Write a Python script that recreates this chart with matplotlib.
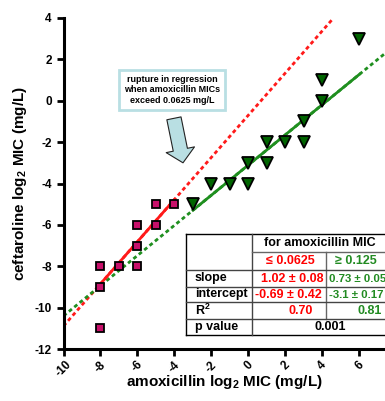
import numpy as np
import matplotlib
matplotlib.use("Agg")
import matplotlib.pyplot as plt
from matplotlib.lines import Line2D
from matplotlib.patches import Rectangle

plt.rcParams['font.family'] = ['Liberation Sans', 'DejaVu Sans']
plt.rcParams['font.weight'] = 'bold'
plt.rcParams['mathtext.fontset'] = 'custom'
plt.rcParams['mathtext.rm'] = 'Liberation Sans:bold'
plt.rcParams['mathtext.bf'] = 'Liberation Sans:bold'

# amoxicillin MIC <= 0.0625 mg/L
amox_low = [-8, -8, -8, -7, -6, -6, -6, -5, -5, -4]
ceft_low = [-8, -9, -11, -8, -6, -7, -8, -5, -6, -5]
# amoxicillin MIC >= 0.125 mg/L
amox_high = [-3, -2, -1, 0, 0, 1, 1, 2, 3, 3, 4, 4, 6]
ceft_high = [-5, -4, -4, -4, -3, -3, -2, -2, -2, -1, 0, 1, 3]

slope_low, icpt_low = 1.02, -0.69
slope_high, icpt_high = 0.73, -3.1

xticks = [-10, -8, -6, -4, -2, 0, 2, 4, 6]
yticks = [4, 2, 0, -2, -4, -6, -8, -10, -12]

row_labels = ['slope', 'intercept', 'R$^2$', 'p value']
col_low = ['1.02 ± 0.08', '-0.69 ± 0.42', '0.70']
col_high = ['0.73 ± 0.05', '-3.1 ± 0.17', '0.81']
p_value = '0.001'

RED = '#ff1a1a'
GREEN = '#1f8f1f'
W, H = 385, 401

fig = plt.figure(figsize=(W / 100, H / 100), dpi=100)
ax = fig.add_axes([63.5 / W, 1 - 349 / H, 1 - 63.5 / W, (349 - 18) / H])
ax.set_xlim(-10, 7.38)
ax.set_ylim(-12, 4)

# regression lines: dashed over whole range, solid over data range
xx = np.array([-10, (4 - icpt_low) / slope_low])
ax.plot(xx, slope_low * xx + icpt_low, color=RED, lw=2, ls=(0, (1.4, 1.1)), zorder=2)
xx = np.array([-10, 7.4])
ax.plot(xx, slope_high * xx + icpt_high, color=GREEN, lw=2, ls=(0, (1.4, 1.1)), zorder=2)
xx = np.array([min(amox_low), max(amox_low)])
ax.plot(xx, slope_low * xx + icpt_low, color=RED, lw=2, zorder=3)
xx = np.array([min(amox_high), max(amox_high)])
ax.plot(xx, slope_high * xx + icpt_high, color=GREEN, lw=2, zorder=3)

ax.plot(amox_low, ceft_low, 's', ms=6, mfc='#c8106a', mec='black', mew=1.3, zorder=4)
ax.plot(amox_high, ceft_high, 'v', ms=8, mfc='#006400', mec='black', mew=1.3, zorder=4)

for s in ['top', 'right']:
    ax.spines[s].set_visible(False)
for s in ['left', 'bottom']:
    ax.spines[s].set_linewidth(2.2)
ax.tick_params(width=2, length=5, labelsize=8.5)
ax.tick_params(axis='x', pad=2)
ax.set_xticks(xticks)
ax.set_yticks(yticks)
ax.set_xticklabels([str(v) for v in xticks], rotation=45, ha='center', fontweight='bold')
ax.set_yticklabels([str(v) for v in yticks], fontweight='bold')
fig.text(224 / W, 1 - 382 / H, 'amoxicillin log$_2$ MIC (mg/L)', ha='center', va='center',
         fontsize=11, fontweight='bold')
ax.set_ylabel('ceftaroline log$_2$ MIC (mg/L)', fontsize=11, fontweight='bold', labelpad=4)

# annotation box and arrow
ax.annotate('', xy=(-3.54, -3.0), xytext=(-4.03, -0.85),
            arrowprops=dict(arrowstyle='simple,head_width=2.6,head_length=1.2,tail_width=1.3',
                            mutation_scale=8, fc='#b9dfe3', ec='#222222', lw=0.8,
                            shrinkA=0, shrinkB=0))
ax.text(-4.11, 0.52, 'rupture in regression\nwhen amoxicillin MICs\nexceed 0.0625 mg/L',
        ha='center', va='center', fontsize=6.5, fontweight='bold', linespacing=1.25,
        bbox=dict(boxstyle='square,pad=0.55', fc='white', ec='#b9dfe3', lw=2))


# table drawn in figure pixel coordinates
def fx(x):
    return x / W


def fy(y):
    return 1 - y / H


def hline(x0, x1, y, c='black', lw=1):
    fig.add_artist(Line2D([fx(x0), fx(x1)], [fy(y), fy(y)], color=c, lw=lw, zorder=6))


def vline(x, y0, y1, c='black', lw=1):
    fig.add_artist(Line2D([fx(x), fx(x)], [fy(y0), fy(y1)], color=c, lw=lw, zorder=6))


def cell(x, y, s, ha='center', color='black', fs=9):
    fig.text(fx(x), fy(y), s, ha=ha, va='center', fontsize=fs, color=color, zorder=7)


cx = [186, 252, 326, 386]
ry = [234, 252, 270, 287, 302, 319, 335]
fig.add_artist(Rectangle((fx(cx[0]), fy(ry[-1])), fx(cx[3]) - fx(cx[0]),
                         fy(ry[0]) - fy(ry[-1]), fc='white', ec='none', zorder=5))
hline(cx[0], cx[3], ry[0])
hline(cx[0], cx[3], ry[-1])
vline(cx[0], ry[0], ry[-1])
vline(cx[1], ry[0], ry[-1], c='#444444')
vline(cx[2], ry[1], ry[5], c='#666666')
hline(cx[1], cx[3], ry[1], c='#666666')
for y in ry[2:6]:
    hline(cx[0], cx[3], y, c='#444444')

cell(320, 243.5, 'for amoxicillin MIC')
cell(290, 261.5, '≤ 0.0625', color='#ff0000')
cell(356, 261.5, '≥ 0.125', color='#228b22')
for i, lab in enumerate(row_labels):
    cell(195, (ry[i + 2] + ry[i + 3]) / 2, lab, ha='left')
low_x = [292, 288, 301]
high_x = [329, 329, 370]
high_ha = ['left', 'left', 'center']
high_fs = [8.2, 8.2, 9]
for i in range(3):
    yc = (ry[i + 2] + ry[i + 3]) / 2
    cell(low_x[i], yc, col_low[i], color='#ff0000')
    cell(high_x[i], yc, col_high[i], ha=high_ha[i], color='#228b22', fs=high_fs[i])
cell(330, (ry[5] + ry[6]) / 2, p_value)

fig.savefig('out.png', dpi=100)
